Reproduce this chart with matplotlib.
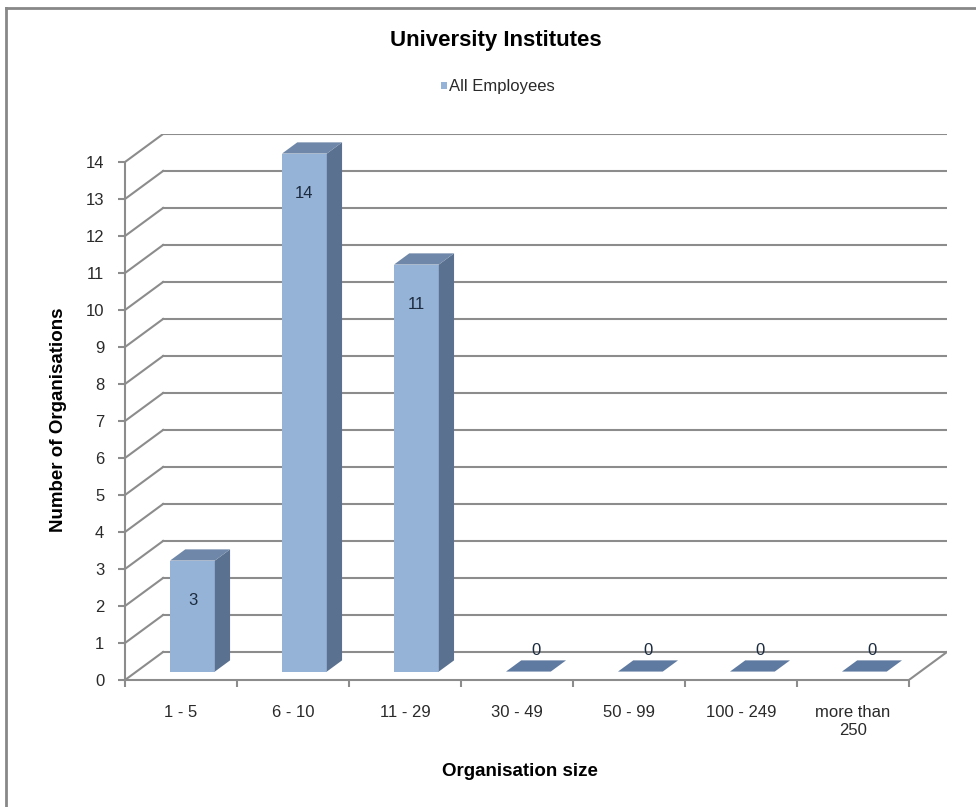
import matplotlib.pyplot as plt
from matplotlib.patches import Polygon, Rectangle

plt.rcParams['font.family'] = ['Liberation Sans', 'DejaVu Sans']

# data
categories = ['1 - 5', '6 - 10', '11 - 29', '30 - 49', '50 - 99', '100 - 249', 'more than\n250']
all_employees = [3, 14, 11, 0, 0, 0, 0]
y_ticks = list(range(15))

# fake 3d geometry (data units)
DX = 0.34       # depth offset along x (category units)
DY = 0.757      # depth offset along y (value units)
BAR_W = 0.4
D0, D1 = 0.3, 0.7   # bar sits between these fractions of the depth

FRONT = '#95b3d7'
SIDE = '#5b7190'
TOP = '#6f87a8'
GRID = '#8c8c8c'
TXT = '#2a2a2a'

fig = plt.figure(figsize=(9.76, 8.07), dpi=100)
ax = fig.add_axes([0.1281, 0.1574, 0.8422, 0.6766])
ncat = len(categories)
ax.set_xlim(0, ncat + DX)
ax.set_ylim(0, 14 + DY)

# back wall grid + left wall diagonals
for v in y_ticks:
    ax.plot([DX, ncat + DX], [v + DY, v + DY], color=GRID, lw=1.5, zorder=1)
    ax.plot([0, DX], [v, v + DY], color=GRID, lw=1.5, zorder=1)
# floor right edge
ax.plot([ncat, ncat + DX], [0, DY], color=GRID, lw=1.5, zorder=1)

for i, v in enumerate(all_employees):
    x0 = i + 0.5 - BAR_W / 2 + D0 * DX
    x1 = x0 + BAR_W
    y0 = D0 * DY
    ddx = (D1 - D0) * DX
    ddy = (D1 - D0) * DY
    if v > 0:
        ax.add_patch(Rectangle((x0, y0), BAR_W, v, facecolor=FRONT, edgecolor='none', zorder=3))
        ax.add_patch(Polygon([(x1, y0), (x1 + ddx, y0 + ddy), (x1 + ddx, y0 + ddy + v), (x1, y0 + v)],
                             closed=True, facecolor=SIDE, edgecolor='none', zorder=3))
        ax.add_patch(Polygon([(x0, y0 + v), (x1, y0 + v), (x1 + ddx, y0 + ddy + v), (x0 + ddx, y0 + ddy + v)],
                             closed=True, facecolor=TOP, edgecolor='none', zorder=3))
        ax.text((x0 + x1) / 2, v + y0 - 1.07, str(v), ha='center', va='center',
                fontsize=12, color='#1c2b3f', zorder=4)
    else:
        ax.add_patch(Polygon([(x0, y0), (x1, y0), (x1 + ddx, y0 + ddy), (x0 + ddx, y0 + ddy)],
                             closed=True, facecolor='#5f7aa0', edgecolor='none', zorder=3))
        ax.text((x0 + x1) / 2 + ddx / 2, 0.81, str(v), ha='center', va='center',
                fontsize=12, color='#1c2b3f', zorder=4)

# axes
for s in ['top', 'right']:
    ax.spines[s].set_visible(False)
for s in ['left', 'bottom']:
    ax.spines[s].set_color(GRID)
    ax.spines[s].set_linewidth(1.5)
ax.spines['left'].set_bounds(0, 14)
ax.spines['bottom'].set_bounds(0, ncat)
ax.set_yticks(y_ticks)
ax.set_yticklabels([str(t) for t in y_ticks], fontsize=12, color=TXT)
ax.set_xticks([i + 0.5 for i in range(ncat)])
ax.set_xticklabels(categories, fontsize=12, color=TXT, linespacing=1.25)
ax.set_xticks(range(ncat + 1), minor=True)
ax.tick_params(axis='x', which='major', length=0, pad=18)
ax.tick_params(axis='x', which='minor', length=5, width=1.5, color=GRID)
ax.tick_params(axis='y', length=5, width=1.5, color=GRID, pad=10)
ax.patch.set_alpha(0)

ax.set_ylabel('Number of Organisations', fontsize=13.5, fontweight='bold', va='center')
ax.yaxis.set_label_coords(-0.0815, 0.476)
ax.set_xlabel('Organisation size', fontsize=13.5, fontweight='bold', va='center')
ax.xaxis.set_label_coords(0.4805, -0.168)

fig.text(0.508, 0.950, 'University Institutes', ha='center', va='center',
         fontsize=16, fontweight='bold')
# legend
fig.patches.append(Rectangle((441 / 976, 1 - 89 / 807), 6 / 976, 7 / 807, transform=fig.transFigure,
                             facecolor=FRONT, edgecolor='none'))
fig.text(449 / 976, 1 - 86 / 807, 'All Employees', ha='left', va='center', fontsize=12, color=TXT)

# outer frame
fig.lines.append(plt.Line2D([0.0062, 1.0], [0.990, 0.990], transform=fig.transFigure, color='#888888', lw=2))
fig.lines.append(plt.Line2D([0.0062, 0.0062], [0.0, 0.990], transform=fig.transFigure, color='#888888', lw=2))

fig.savefig('out.png', dpi=100, facecolor='white')
